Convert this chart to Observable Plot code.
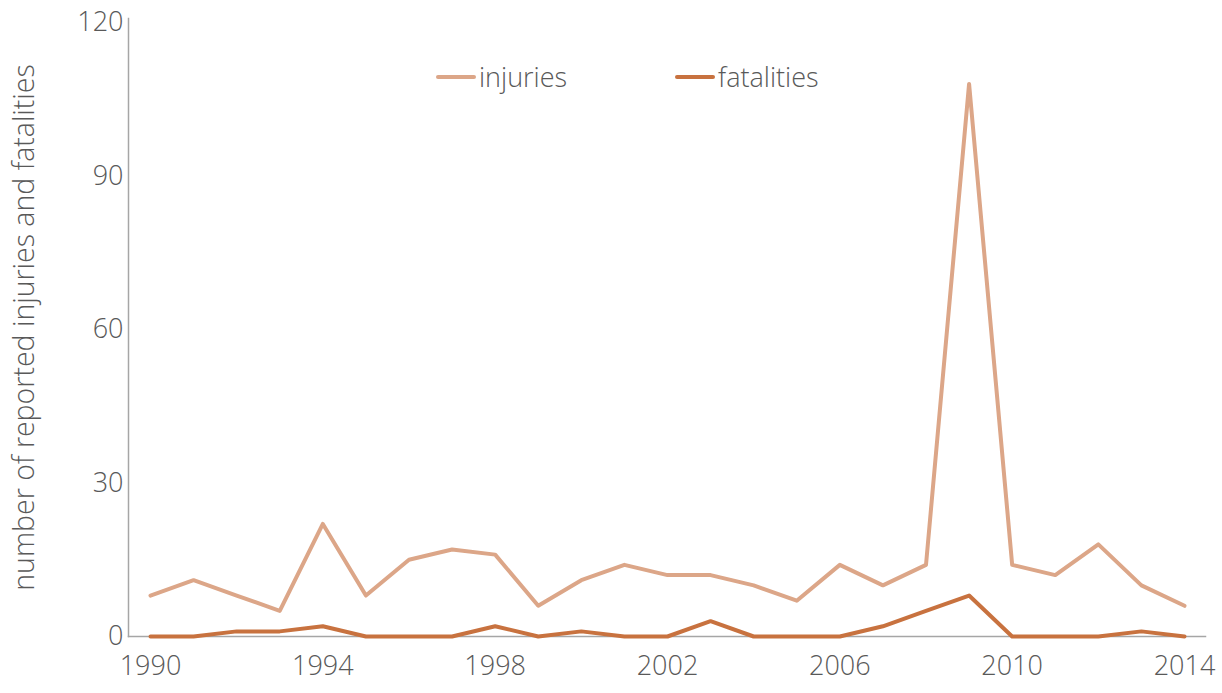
<!DOCTYPE html>
<html>
<head>
<meta charset="utf-8">
<script src="https://cdn.jsdelivr.net/npm/d3@7"></script>
<script src="https://cdn.jsdelivr.net/npm/@observablehq/plot@0.6"></script>
<style>
  html, body { margin: 0; padding: 0; background: #fff; }
  #wrap { position: relative; width: 1222px; height: 693px; font-family: "Open Sans", Lato, sans-serif; font-weight: 300; color: #595959; }
  .legend { position: absolute; top: 58px; left: 436px; display: flex; align-items: center; font-size: 27px; }
  .item { display: flex; align-items: center; margin-right: 108px; }
  .swatch { width: 40px; height: 4px; border-radius: 2px; margin-right: 3px; }
</style>
</head>
<body>
<div id="wrap"></div>
<script>
const years = [1990,1991,1992,1993,1994,1995,1996,1997,1998,1999,2000,2001,2002,2003,2004,2005,2006,2007,2008,2009,2010,2011,2012,2013,2014];
const injuries = [8,11,8,5,22,8,15,17,16,6,11,14,12,12,10,7,14,10,14,108,14,12,18,10,6];
const fatalities = [0,0,1,1,2,0,0,0,2,0,1,0,0,3,0,0,0,2,5,8,0,0,0,1,0];
const seriesNames = ["injuries", "fatalities"];
const seriesColors = ["#dca688", "#c8723f"];
const xTicks = [1990,1994,1998,2002,2006,2010,2014];
const yTicks = [0,30,60,90,120];
const yTitle = "number of reported injuries and fatalities";

const rows = [];
years.forEach((yr, i) => {
  rows.push({year: yr, value: injuries[i], series: seriesNames[0]});
  rows.push({year: yr, value: fatalities[i], series: seriesNames[1]});
});

const chart = Plot.plot({
  width: 1222,
  height: 693,
  marginLeft: 128,
  marginRight: 17,
  marginTop: 18,
  marginBottom: 57,
  style: {fontFamily: '"Open Sans", Lato, sans-serif', fontWeight: 300, fontSize: "27px", color: "#595959", background: "#fff", overflow: "visible"},
  x: {domain: [1990, 2014], insetLeft: 22, insetRight: 21},
  y: {domain: [0, 120], insetTop: 4},
  color: {domain: seriesNames, range: seriesColors},
  marks: [
    Plot.frame({anchor: "left", stroke: "#a6a6a6", strokeWidth: 1.5}),
    Plot.frame({anchor: "bottom", stroke: "#a6a6a6", strokeWidth: 1.5}),
    Plot.axisX({ticks: xTicks, tickFormat: "d", tickSize: 0, tickPadding: 19, label: null}),
    Plot.axisY({ticks: yTicks, tickSize: 0, tickPadding: 5, label: null}),
    Plot.text([yTitle], {frameAnchor: "left", textAnchor: "middle", rotate: -90, dx: -104, fontSize: 28.5, text: d => d}),
    Plot.lineY(rows, {x: "year", y: "value", z: "series", stroke: "series", strokeWidth: 4})
  ]
});

const wrap = document.getElementById("wrap");
wrap.appendChild(chart);
const legend = document.createElement("div");
legend.className = "legend";
seriesNames.forEach((name, i) => {
  const item = document.createElement("div");
  item.className = "item";
  const sw = document.createElement("span");
  sw.className = "swatch";
  sw.style.background = seriesColors[i];
  const label = document.createElement("span");
  label.textContent = name;
  item.appendChild(sw);
  item.appendChild(label);
  legend.appendChild(item);
});
wrap.appendChild(legend);
chart.style.position = "absolute";
chart.style.left = "0";
chart.style.top = "0";
</script>
</body>
</html>
